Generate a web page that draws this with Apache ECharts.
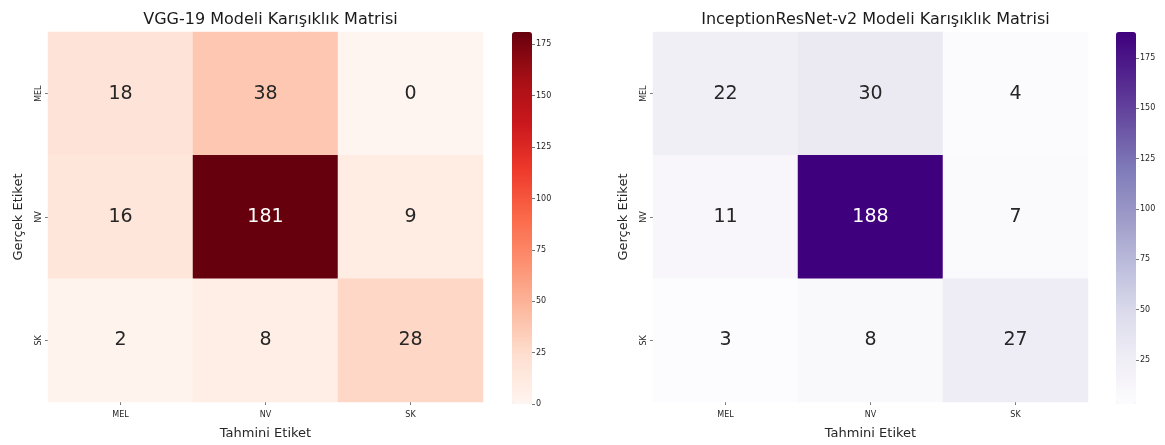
<!DOCTYPE html>
<html>
<head>
<meta charset="utf-8">
<script src="https://cdn.jsdelivr.net/npm/echarts@6/dist/echarts.min.js"></script>
<style>
  html, body { margin: 0; padding: 0; background: #ffffff; }
  #chart { width: 1165px; height: 445px; }
</style>
</head>
<body>
<div id="chart"></div>
<script>
// Class labels (rows = true label, columns = predicted label)
const classLabels = ['MEL', 'NV', 'SK'];

// Confusion matrices
const vggMatrix = [
  [18, 38, 0],
  [16, 181, 9],
  [2, 8, 28]
];
const inceptionMatrix = [
  [22, 30, 4],
  [11, 188, 7],
  [3, 8, 27]
];

// Colour bar tick values
const vggTicks = [0, 25, 50, 75, 100, 125, 150, 175];
const inceptionTicks = [25, 50, 75, 100, 125, 150, 175];

const titles = ['VGG-19 Modeli Karışıklık Matrisi', 'InceptionResNet-v2 Modeli Karışıklık Matrisi'];
const xName = 'Tahmini Etiket';
const yName = 'Gerçek Etiket';

// Colormaps (Reds / Purples)
const reds = ['#fff5f0', '#fee0d2', '#fcbba1', '#fc9272', '#fb6a4a', '#ef3b2c', '#cb181d', '#a50f15', '#67000d'];
const purples = ['#fcfbfd', '#efedf5', '#dadaeb', '#bcbddc', '#9e9ac8', '#807dba', '#6a51a3', '#54278f', '#3f007d'];

const FONT = 'DejaVu Sans';
const TEXT = '#262626';

function cells(matrix) {
  const flat = matrix.flat();
  const lo = Math.min(...flat), hi = Math.max(...flat);
  const out = [];
  matrix.forEach((row, r) => row.forEach((v, c) => {
    const t = (v - lo) / (hi - lo);
    out.push({ value: [c, r, v], label: { color: t > 0.6 ? '#ffffff' : TEXT } });
  }));
  return { data: out, lo, hi };
}

const panels = [
  { m: vggMatrix, colors: reds, ticks: vggTicks, gx: 48, cbx: 512 },
  { m: inceptionMatrix, colors: purples, ticks: inceptionTicks, gx: 653, cbx: 1116 }
];

const GT = 32, GH = 372, GW = 435, CBW = 20;

const option = {
  backgroundColor: '#ffffff',
  textStyle: { fontFamily: FONT },
  animation: false,
  title: panels.map((p, i) => ({
    text: titles[i],
    left: p.gx + GW / 2,
    top: 7,
    textAlign: 'center',
    textStyle: { fontFamily: FONT, fontSize: 16, fontWeight: 'normal', color: '#1a1a1a' }
  })),
  grid: [],
  xAxis: [],
  yAxis: [],
  visualMap: [],
  series: []
};

panels.forEach((p, i) => {
  const c = cells(p.m);
  // heatmap grid
  option.grid.push({ left: p.gx, top: GT, width: GW, height: GH, containLabel: false });
  // colour bar axis grid
  option.grid.push({ left: p.cbx, top: GT, width: CBW, height: GH, containLabel: false });

  option.xAxis.push({
    type: 'category', gridIndex: 2 * i, data: classLabels,
    name: xName, nameLocation: 'middle', nameGap: 25,
    nameTextStyle: { fontFamily: FONT, fontSize: 13, color: TEXT },
    axisLine: { show: false },
    axisTick: { show: true, alignWithLabel: true, length: 3, lineStyle: { color: '#555', width: 0.8 } },
    axisLabel: { fontFamily: FONT, fontSize: 8, color: TEXT, margin: 9 },
    splitLine: { show: false }
  });
  option.yAxis.push({
    type: 'category', gridIndex: 2 * i, data: classLabels, inverse: true,
    name: yName, nameLocation: 'middle', nameGap: 23, nameRotate: 90,
    nameTextStyle: { fontFamily: FONT, fontSize: 13, color: TEXT },
    axisLine: { show: false },
    axisTick: { show: true, alignWithLabel: true, length: 3, lineStyle: { color: '#555', width: 0.8 } },
    axisLabel: { fontFamily: FONT, fontSize: 8, color: TEXT, rotate: 90, margin: 5 },
    splitLine: { show: false }
  });

  // colour bar scale, on the right edge of the bar
  option.xAxis.push({ type: 'value', gridIndex: 2 * i + 1, show: false, min: 0, max: 1 });
  option.yAxis.push({
    type: 'value', gridIndex: 2 * i + 1, position: 'right',
    min: c.lo, max: c.hi,
    axisLine: { show: false, onZero: false },
    splitLine: { show: false },
    axisTick: { show: true, length: 3, lineStyle: { color: '#555', width: 0.8 }, customValues: p.ticks },
    axisLabel: { fontFamily: FONT, fontSize: 8, color: TEXT, margin: 4, customValues: p.ticks }
  });

  option.visualMap.push({
    type: 'continuous', seriesIndex: i,
    min: c.lo, max: c.hi,
    left: p.cbx, top: GT,
    itemWidth: CBW, itemHeight: GH,
    padding: 0, calculable: false, realtime: false,
    hoverLink: false,
    inRange: { color: p.colors }
  });

  option.series.push({
    type: 'heatmap', xAxisIndex: 2 * i, yAxisIndex: 2 * i,
    data: c.data,
    label: { show: true, fontFamily: FONT, fontSize: 19 },
    itemStyle: { borderWidth: 0 },
    emphasis: { disabled: true }
  });
});

const chart = echarts.init(document.getElementById('chart'), null, { renderer: 'canvas' });
chart.setOption(option);
</script>
</body>
</html>
